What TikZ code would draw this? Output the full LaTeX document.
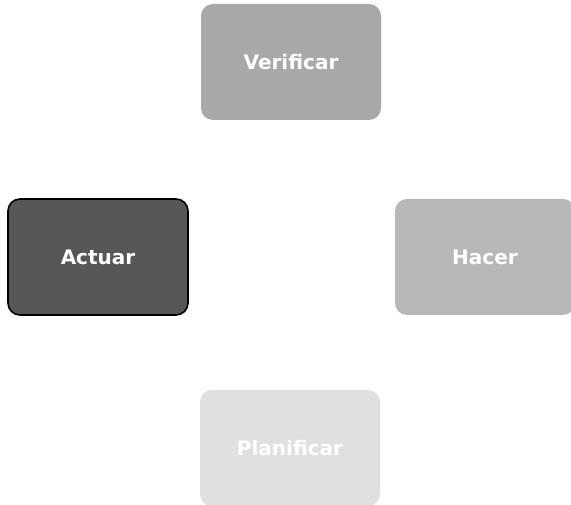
\documentclass[tikz,border=0pt]{standalone}
\usepackage{fontspec}
\setsansfont{DejaVu Sans}
\begin{document}
\begin{tikzpicture}[x=1pt,y=1pt,
    fase/.style={rectangle,rounded corners=12pt,minimum width=180pt,minimum height=116pt,
                 text=white,font=\sffamily\bfseries\fontsize{20}{24}\selectfont}]
    \useasboundingbox (0,0) rectangle (571,505);
    % Draw phases
    \node[fase,fill=black!34] (V) at (291,443) {Verificar};
    \node[fase,fill=black!28] (H) at (485,248) {Hacer};
    \node[fase,fill=black!12] (P) at (290,57) {Planificar};
    \node[fase,fill=black!66,draw=black,line width=1.6pt] (A) at (98,248) {Actuar};
\end{tikzpicture}
\end{document}
